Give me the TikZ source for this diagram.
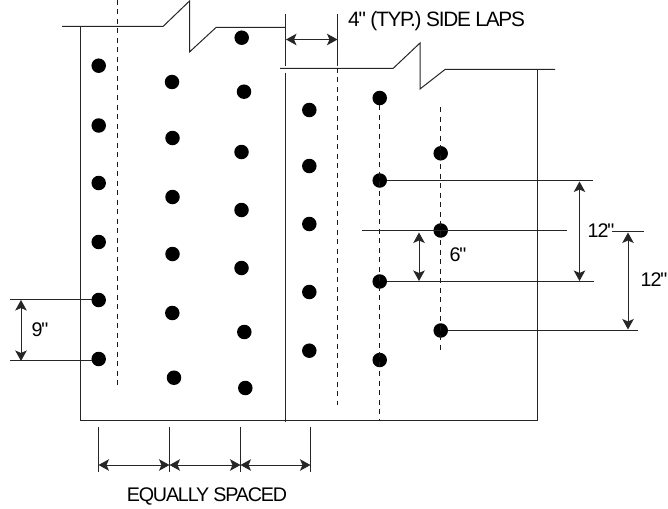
\documentclass[tikz,border=0pt]{standalone}
\usepackage{fontspec}
\setmainfont{Liberation Sans}
\newfontfamily\tightfont[LetterSpace=-6]{Liberation Sans}
\usetikzlibrary{arrows.meta}
\tikzset{
  fastener/.style={circle,fill=black,draw=none,inner sep=0pt,minimum size=14.5pt},
  edge line/.style={line width=1pt,black!85},
  thin line/.style={line width=1pt,black!85},
  lap dash/.style={line width=1pt,black!90,dash pattern=on 5pt off 4.5pt},
  dim/.style={line width=1pt,black!85,{Stealth[length=10.5pt,width=11.5pt,inset=2.5pt]}-{Stealth[length=10.5pt,width=11.5pt,inset=2.5pt]}},
  label text/.style={inner sep=0pt,font=\tightfont\fontsize{19.7pt}{22pt}\selectfont,text=black},
  wide label/.style={inner sep=0pt,font=\tightfont\fontsize{20.8pt}{22pt}\selectfont,text=black},
}
\begin{document}
\begin{tikzpicture}[x=1pt,y=-1pt]
\useasboundingbox[fill=white] (0,0) rectangle (668,508);
% coordinates
\foreach \n/\x/\y in {a1/98.7/65.7,a2/98.7/125.5,a3/98.7/183,a4/98.7/242,a5/98.7/300,a6/98.7/359,
 b1/172/82,b2/172.5/138,b3/172.5/197,b4/172.5/254,b5/172.3/313,b6/174/377.7,
 c1/241.7/37.7,c2/244/91.7,c3/241.5/152,c4/241.5/210,c5/241.5/268,c6/244.3/332,c7/245.3/388,
 d1/309.3/110,d2/309.3/166,d3/309.3/224,d4/309.3/292,d5/309.3/350.7,
 e1/379.7/98,e2/379.7/180.5,e3/379.7/281.5,e4/379.7/360,
 f1/440.7/153.3,f2/440.7/230.5,f3/440.7/330.5}
  {\node[fastener] (\n) at (\x,\y) {};}
% sheet edges
\coordinate (tl0) at (62,26.5);
\coordinate (tl1) at (163,26.5);
\coordinate (tl2) at (189.5,1);
\coordinate (tl3) at (189.5,52);
\coordinate (tl4) at (216,27.5);
\coordinate (tl5) at (285.5,27.5);
\draw[edge line] (tl0)--(tl1)--(tl2)--(tl3)--(tl4)--(tl5);
\coordinate (ll0) at (80.5,26.5);
\coordinate (ll1) at (80.5,420.5);
\coordinate (br) at (537.5,420.5);
\coordinate (rr0) at (537.5,70);
\draw[edge line] (ll0)--(ll1)--(br)--(rr0);
\coordinate (tr0) at (280,68.5);
\coordinate (tr1) at (393,68.5);
\coordinate (tr2) at (420,43);
\coordinate (tr3) at (420,89);
\coordinate (tr4) at (445,69.5);
\coordinate (tr5) at (555,69.5);
\draw[edge line] (tr0)--(tr1)--(tr2)--(tr3)--(tr4)--(tr5);
% lap lines
\coordinate (p0) at (285.5,14);
\coordinate (p1) at (285.5,66);
\coordinate (p2) at (285.5,73);
\coordinate (p3) at (285.5,422);
\draw[edge line] (p0)--(p1) (p2)--(p3);
\coordinate (q0) at (337.5,14);
\coordinate (q1) at (337.5,66);
\draw[edge line] (q0)--(q1);
\coordinate (la) at (286,39.5);
\coordinate (lb) at (337.5,39.5);
\draw[dim] (la)--(lb);
% dashed lines
\coordinate (h0) at (117.5,0);
\coordinate (h1) at (117.5,385);
\draw[lap dash] (h0)--(h1);
\coordinate (i0) at (337.5,68);
\coordinate (i1) at (337.5,405);
\draw[lap dash] (i0)--(i1);
\coordinate (j1) at (379.7,420);
\draw[lap dash] (e1)--(j1);
\coordinate (k0) at (440.5,107);
\coordinate (k1) at (440.5,354);
\draw[lap dash] (k0)--(k1);
% extension lines on the right
\coordinate (r1) at (593,180.5);
\coordinate (r2a) at (362,230.5);
\coordinate (r2b) at (567,230.5);
\coordinate (r3) at (594,281.5);
\coordinate (r4) at (638,330.5);
\coordinate (r5a) at (612,231.5);
\coordinate (r5b) at (644,231.5);
\draw[thin line] (e2)--(r1);
\draw[thin line] (r2a)--(r2b);
\draw[thin line] (e3)--(r3);
\draw[thin line] (f3)--(r4);
\draw[thin line] (r5a)--(r5b);
\coordinate (s1a) at (579.5,181.5);
\coordinate (s1b) at (579.5,281);
\draw[dim] (s1a)--(s1b);
\coordinate (s2a) at (419,232.5);
\coordinate (s2b) at (419,281);
\draw[dim] (s2a)--(s2b);
\coordinate (s3a) at (628,232.5);
\coordinate (s3b) at (628,329.5);
\draw[dim] (s3a)--(s3b);
% left dimension
\coordinate (l1) at (10,299.5);
\coordinate (l1e) at (92,299.5);
\coordinate (l2) at (10,360.5);
\coordinate (l2e) at (92,360.5);
\draw[thin line] (l1)--(l1e);
\draw[thin line] (l2)--(l2e);
\coordinate (l3) at (21,300);
\coordinate (l4) at (21,361);
\draw[dim] (l3)--(l4);
% bottom dimension
\foreach \n/\x in {t1/98.5,t2/169.5,t3/240.5,t4/310.5}{
  \coordinate (\n a) at (\x,426.5);
  \coordinate (\n b) at (\x,472);
  \coordinate (\n m) at (\x,465);
  \draw[edge line] (\n a)--(\n b);
}
\draw[dim] (t1m)--(t2m);
\draw[dim] (t2m)--(t3m);
\draw[dim] (t3m)--(t4m);
% labels
\node[wide label,anchor=west] (tl) at (348,21.5) {4" (TYP.) SIDE LAPS};
\node[label text] (tw1) at (601,231) {12"};
\node[label text] (tw2) at (654,280) {12"};
\node[label text] (ts) at (458,255) {6"};
\node[label text] (tn) at (40,330) {9"};
\node[label text] (te) at (207,496) {EQUALLY SPACED};
\end{tikzpicture}
\end{document}
